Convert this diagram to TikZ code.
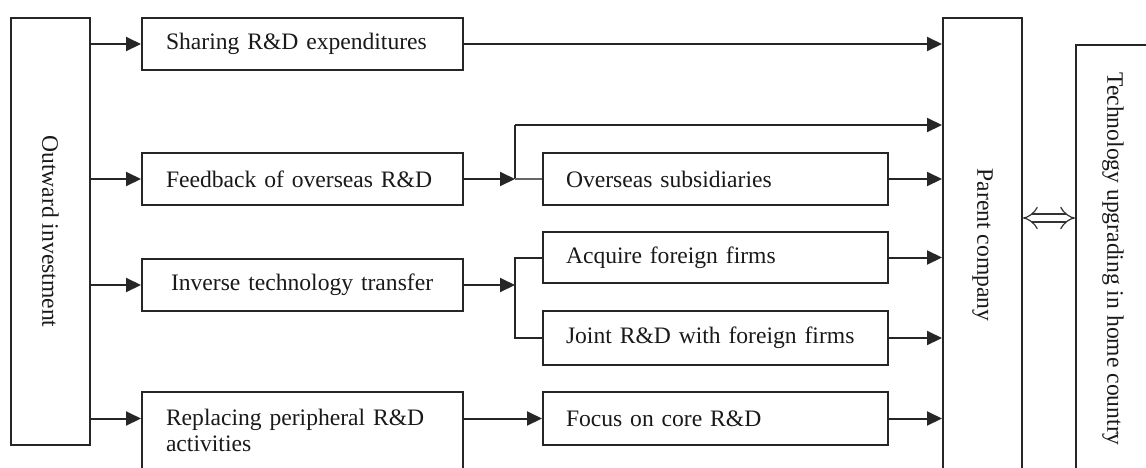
\documentclass[tikz,border=0pt]{standalone}
\usepackage{fontspec}
\setmainfont{Liberation Serif}
\usetikzlibrary{arrows.meta}
\begin{document}
\begin{tikzpicture}[x=0.5pt,y=-0.5pt,
  line width=1pt,
  box/.style={draw=black!85, line width=1pt, inner ysep=0pt, text=black!90,
    font=\fontsize{11.8}{12.6}\selectfont},
  lbox/.style={box, minimum width=160.5pt, inner xsep=12pt, text width=136.5pt, align=left},
  rbox/.style={box, minimum width=172.5pt, inner xsep=11.5pt, text width=149.5pt, align=left},
  vbox/.style={box, inner sep=0pt},
  arr/.style={draw=black!85, line width=1pt, -{Triangle[length=7.5pt,width=7pt]}},
  ln/.style={draw=black!85, line width=1pt},
  thin ln/.style={draw=black!60, line width=0.7pt}
]
\useasboundingbox (0,0) rectangle (1146,467);
\clip (0,0) rectangle (1146,467);

% vertical boxes
\node[vbox, minimum width=39.5pt, minimum height=213.5pt] (out) at (50.5,231.5) {\rotatebox{-90}{Outward investment}};
\node[vbox, minimum width=39.5pt, minimum height=227pt] (parent) at (982.5,245) {\rotatebox{-90}{Parent company}};
\node[vbox, minimum width=37pt, minimum height=214pt] (tech) at (1113,259) {\rotatebox{-90}{Technology upgrading in home country}};

% left column
\node[lbox, minimum height=26pt] (sharing) at (302.5,44) {Sharing R\&D expenditures};
\node[lbox, minimum height=26pt] (feedback) at (302.5,179) {Feedback of overseas R\&D};
\node[box, minimum width=160.5pt, inner xsep=14.5pt, text width=131.5pt, align=left, minimum height=26pt] (inverse) at (302.5,285) {Inverse technology transfer};
\node[lbox, minimum height=38.5pt] (replacing) at (302.5,430.5) {Replacing peripheral R\&D\\activities};

% right column
\node[rbox, minimum height=26pt] (overseas) at (715.5,179) {Overseas subsidiaries};
\node[rbox, minimum height=25.5pt] (acquire) at (715.5,257.5) {Acquire foreign firms};
\node[rbox, minimum height=27pt] (joint) at (715.5,338) {Joint R\&D with foreign firms};
\node[rbox, minimum height=26.5pt] (focus) at (715.5,418.5) {Focus on core R\&D};

% junctions
\coordinate (j1) at (515,179);
\coordinate (j1top) at (515,125);
\coordinate (j2) at (515,285);
\coordinate (dbl) at (1000,218);

% outward investment to left boxes
\draw[arr] (sharing.west -| out.east) -- (sharing.west);
\draw[arr] (feedback.west -| out.east) -- (feedback.west);
\draw[arr] (inverse.west -| out.east) -- (inverse.west);
\draw[arr] (focus.west -| out.east) -- (focus.west -| replacing.west);

% sharing to parent
\draw[arr] (sharing.east) -- (sharing.east -| parent.west);

% feedback branch
\draw[arr] (feedback.east) -- (j1);
\draw[ln] (j1) -- (j1top);
\draw[arr] (j1top) -- (j1top -| parent.west);
\draw[thin ln] (j1) -- (overseas.west);
\draw[arr] (overseas.east) -- (overseas.east -| parent.west);

% inverse branch
\draw[arr] (inverse.east) -- (j2);
\draw[ln] (acquire.west) -| (j2 |- acquire.west) -- (j2 |- joint.west) -- (joint.west);
\draw[arr] (acquire.east) -- (acquire.east -| parent.west);
\draw[arr] (joint.east) -- (joint.east -| parent.west);

% replacing branch
\draw[arr] (focus.west -| replacing.east) -- (focus.west);
\draw[arr] (focus.east) -- (focus.east -| parent.west);

% double arrow
\draw[draw=black!80, line width=0.6pt, double, double distance=3.4pt, {Implies[scale=1.4]}-{Implies[scale=1.4]}] (dbl -| parent.east) -- (dbl -| tech.west);
\end{tikzpicture}
\end{document}
